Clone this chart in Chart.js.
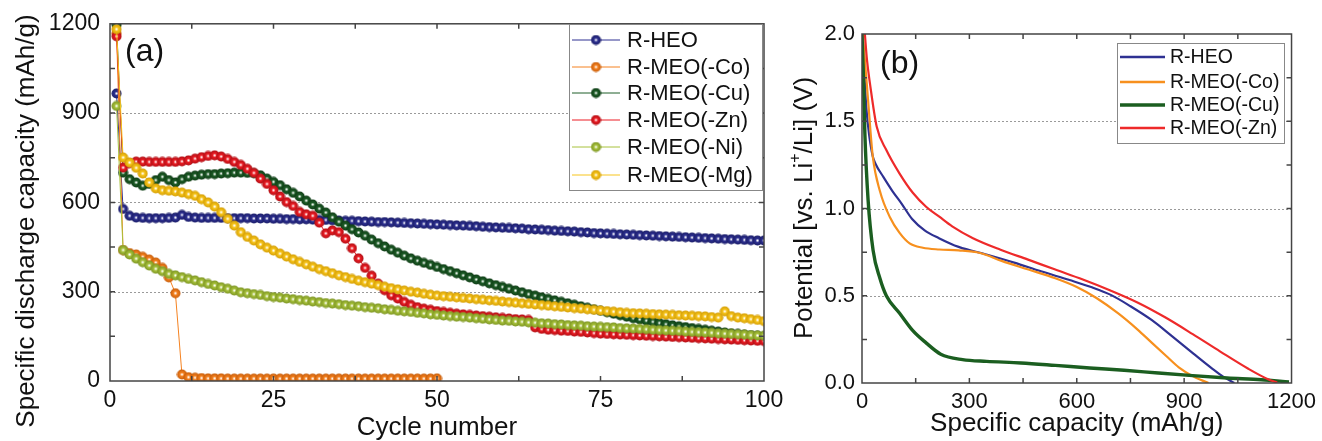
<!DOCTYPE html>
<html>
<head>
<meta charset="utf-8">
<script src="https://cdn.jsdelivr.net/npm/chart.js@4.4.1/dist/chart.umd.min.js"></script>
<style>
  html, body { margin: 0; padding: 0; background: #fff; }
  body { width: 1322px; height: 441px; position: relative; overflow: hidden; }
  canvas { position: absolute; top: 0; }
  #chartA { left: 0; }
  #chartB { left: 780px; }
</style>
</head>
<body>
<canvas id="chartA" width="800" height="441"></canvas>
<canvas id="chartB" width="542" height="441"></canvas>
<script>
const FONT = "'Liberation Sans', Arial, sans-serif";

// ---- (a) cycling data, discharge capacity (mAh/g) per cycle ----
const cycles = Array.from({ length: 100 }, (_, i) => i + 1);

const heo = [
  966, 578, 555, 549, 548, 547, 547, 547, 548, 549,
  558, 551, 549, 548, 548, 548, 548, 547, 547, 547,
  547, 546, 546, 546, 545, 545, 544, 544, 543, 543,
  542, 541, 541, 540, 539, 538, 538, 537, 536, 535,
  534, 534, 533, 532, 531, 530, 529, 528, 527, 526,
  525, 524, 523, 522, 521, 520, 518, 517, 516, 515,
  514, 513, 512, 510, 509, 508, 507, 505, 504, 503,
  502, 500, 499, 497, 496, 495, 494, 493, 492, 491,
  490, 489, 488, 487, 486, 485, 484, 483, 482, 481,
  480, 479, 478, 477, 476, 475, 474, 473, 472, 472
];
const meoCo = [
  1168, 440, 430, 425, 417, 408, 398, 380, 348, 295,
  22, 13, 11, 10, 9, 9, 9, 8, 8, 8,
  8, 8, 8, 8, 8, 8, 8, 8, 8, 8,
  8, 8, 8, 8, 8, 8, 8, 8, 8, 8,
  8, 8, 8, 8, 8, 8, 8, 8, 8, 9
];
const meoCu = [
  1197, 700, 678, 667, 656, 662, 675, 686, 675, 667,
  678, 686, 690, 693, 695, 695, 697, 698, 700, 700,
  699, 698, 691, 680, 669, 658, 644, 632, 620, 606,
  593, 579, 566, 550, 535, 522, 510, 499, 488, 475,
  463, 452, 441, 431, 421, 412, 404, 397, 390, 383,
  376, 369, 362, 355, 348, 341, 335, 328, 322, 316,
  310, 304, 298, 292, 287, 281, 276, 271, 266, 261,
  256, 251, 246, 241, 236, 231, 226, 221, 216, 211,
  207, 203, 199, 195, 191, 187, 184, 181, 178, 175,
  172, 169, 166, 163, 160, 158, 156, 154, 152, 150
];
const meoZn = [
  1158, 717, 732, 737, 737, 736, 736, 736, 736, 736,
  738, 741, 747, 752, 756, 758, 754, 746, 736, 726,
  713, 699, 680, 662, 641, 620, 601, 588, 568, 560,
  555, 532, 496, 506, 500, 478, 446, 412, 380, 354,
  327, 305, 288, 277, 266, 256, 248, 243, 239, 235,
  232, 229, 226, 224, 222, 220, 218, 216, 214, 212,
  210, 208, 207, 205, 180, 175, 172, 171, 169, 168,
  166, 165, 163, 161, 159, 158, 157, 156, 155, 154,
  153, 152, 151, 150, 149, 148, 147, 146, 145, 144,
  143, 142, 141, 140, 139, 138, 137, 136, 135, 134
];
const meoNi = [
  924, 440, 425, 411, 399, 388, 377, 369, 360, 355,
  349, 343, 338, 332, 326, 321, 315, 310, 304, 298,
  295, 292, 289, 285, 282, 280, 277, 275, 272, 270,
  267, 265, 262, 260, 258, 255, 253, 251, 248, 246,
  244, 241, 239, 236, 234, 232, 229, 227, 224, 222,
  220, 218, 216, 215, 213, 211, 209, 207, 205, 203,
  202, 200, 199, 197, 196, 194, 193, 191, 190, 188,
  187, 186, 184, 183, 182, 181, 180, 178, 177, 176,
  175, 174, 172, 171, 170, 169, 168, 166, 165, 164,
  163, 162, 160, 159, 158, 157, 156, 154, 153, 152
];
const meoMg = [
  1182, 751, 734, 716, 697, 667, 647, 641, 639, 637,
  633, 628, 622, 611, 600, 586, 567, 545, 522, 500,
  484, 472, 459, 448, 438, 428, 418, 409, 400, 392,
  384, 376, 369, 362, 355, 349, 343, 337, 332, 327,
  322, 317, 312, 308, 304, 300, 297, 293, 290, 287,
  285, 283, 281, 279, 277, 275, 273, 271, 269, 267,
  265, 263, 261, 259, 257, 255, 253, 251, 249, 247,
  245, 243, 241, 239, 237, 235, 233, 231, 229, 228,
  227, 226, 225, 224, 223, 222, 221, 220, 219, 218,
  217, 215, 213, 234, 218, 213, 211, 208, 205, 201
];

// ---- (b) first discharge profiles: capacity (mAh/g) vs potential (V) ----
const heoCap = [2, 6, 12, 20, 30, 38, 60, 85, 110, 140, 175, 215, 270, 350, 425, 500, 580, 640, 695, 750, 810, 865, 925, 980, 1010, 1040];
const heoV   = [2.0, 1.80, 1.58, 1.42, 1.30, 1.255, 1.18, 1.10, 1.03, 0.94, 0.875, 0.83, 0.78, 0.735, 0.69, 0.64, 0.59, 0.55, 0.505, 0.44, 0.36, 0.27, 0.17, 0.08, 0.035, 0.0];
const coCap  = [2, 8, 17, 30, 50, 78, 105, 133, 170, 216, 270, 330, 390, 465, 540, 600, 655, 715, 770, 810, 850, 885, 925, 950, 968];
const coV    = [2.0, 1.85, 1.62, 1.30, 1.10, 0.95, 0.86, 0.80, 0.775, 0.765, 0.76, 0.745, 0.70, 0.65, 0.60, 0.55, 0.487, 0.40, 0.306, 0.23, 0.155, 0.09, 0.038, 0.015, 0.0];
const cuCap  = [0, 4, 8, 17, 31, 50, 68, 105, 142, 179, 220, 281, 348, 444, 540, 636, 732, 828, 924, 1020, 1116, 1193];
const cuV    = [2.0, 1.75, 1.43, 1.05, 0.76, 0.60, 0.50, 0.40, 0.30, 0.23, 0.165, 0.134, 0.124, 0.115, 0.101, 0.086, 0.073, 0.057, 0.042, 0.029, 0.019, 0.006];
const znCap  = [8, 14, 22, 41, 68, 105, 142, 179, 216, 252, 310, 387, 464, 540, 617, 694, 771, 848, 924, 1001, 1078, 1136, 1160];
const znV    = [2.0, 1.85, 1.72, 1.47, 1.335, 1.20, 1.09, 1.01, 0.953, 0.898, 0.83, 0.764, 0.707, 0.65, 0.593, 0.53, 0.46, 0.375, 0.28, 0.18, 0.083, 0.02, 0.003];

// shaded ball marker like the original plot
function ball(color, dark) {
  const c = document.createElement('canvas');
  c.width = c.height = 11;
  const g = c.getContext('2d');
  const grad = g.createRadialGradient(5.5, 5.5, 0.4, 5.5, 5.5, 5.2);
  grad.addColorStop(0, '#ffffff');
  grad.addColorStop(0.3, color);
  grad.addColorStop(1, dark);
  g.fillStyle = grad;
  g.beginPath();
  g.arc(5.5, 5.5, 5, 0, Math.PI * 2);
  g.fill();
  return c;
}

const seriesA = [
  { name: 'R-HEO',      values: heo,   color: '#2e3192', dark: '#1a1c66' },
  { name: 'R-MEO(-Co)', values: meoCo, color: '#f58220', dark: '#c45a08' },
  { name: 'R-MEO(-Cu)', values: meoCu, color: '#1e5e28', dark: '#0e3a14' },
  { name: 'R-MEO(-Zn)', values: meoZn, color: '#ec1c24', dark: '#ad0f15' },
  { name: 'R-MEO(-Ni)', values: meoNi, color: '#a8c23c', dark: '#7a9222' },
  { name: 'R-MEO(-Mg)', values: meoMg, color: '#f7c51c', dark: '#d29c04' }
];
seriesA.forEach(s => { s.sprite = ball(s.color, s.dark); });

const seriesB = [
  { name: 'R-HEO',      cap: heoCap, v: heoV, color: '#2e3192', width: 2.2 },
  { name: 'R-MEO(-Co)', cap: coCap,  v: coV,  color: '#f7901e', width: 2.2 },
  { name: 'R-MEO(-Cu)', cap: cuCap,  v: cuV,  color: '#1b5e20', width: 3.4 },
  { name: 'R-MEO(-Zn)', cap: znCap,  v: znV,  color: '#ee2a2a', width: 2.2 }
];

function drawTitle(ctx, parts, cx, cy, size) {
  ctx.save();
  ctx.translate(cx, cy);
  ctx.rotate(-Math.PI / 2);
  ctx.fillStyle = '#111';
  ctx.textBaseline = 'middle';
  const fonts = parts.map(p => (p.sup ? Math.round(size * 0.6) : size) + 'px ' + FONT);
  const widths = parts.map((p, i) => { ctx.font = fonts[i]; return ctx.measureText(p.t).width; });
  let x = -widths.reduce((a, b) => a + b, 0) / 2;
  parts.forEach((p, i) => {
    ctx.font = fonts[i];
    ctx.fillText(p.t, x, p.sup ? -size * 0.36 : 0);
    x += widths[i];
  });
  ctx.restore();
}

// box frame, dotted grid, inward ticks, panel letter, y title and legend
function framePlugin(cfg) {
  return {
    id: 'frame',
    beforeDatasetsDraw(chart) {
      const { ctx, chartArea: a, scales: { y } } = chart;
      ctx.save();
      ctx.strokeStyle = '#9a9a9a';
      ctx.lineWidth = 1;
      ctx.setLineDash([2, 2]);
      cfg.gridY.forEach(v => {
        const py = Math.round(y.getPixelForValue(v)) + 0.5;
        ctx.beginPath();
        ctx.moveTo(a.left, py);
        ctx.lineTo(a.right, py);
        ctx.stroke();
      });
      ctx.restore();
    },
    afterDatasetsDraw(chart) {
      const { ctx, chartArea: a, scales: { x, y } } = chart;
      ctx.save();
      ctx.strokeStyle = '#444';
      ctx.lineWidth = 1.5;
      ctx.strokeRect(a.left, a.top, a.right - a.left, a.bottom - a.top);
      ctx.beginPath();
      x.ticks.forEach(t => {
        if (t.value <= x.min || t.value >= x.max) return;
        const px = x.getPixelForValue(t.value);
        ctx.moveTo(px, a.bottom); ctx.lineTo(px, a.bottom - 5);
        ctx.moveTo(px, a.top); ctx.lineTo(px, a.top + 5);
      });
      y.ticks.forEach(t => {
        if (t.value <= y.min || t.value >= y.max) return;
        const py = y.getPixelForValue(t.value);
        ctx.moveTo(a.left, py); ctx.lineTo(a.left + 5, py);
        ctx.moveTo(a.right, py); ctx.lineTo(a.right - 5, py);
      });
      ctx.stroke();

      ctx.fillStyle = '#111';
      ctx.font = '32px ' + FONT;
      ctx.textBaseline = 'alphabetic';
      ctx.fillText(cfg.label, cfg.labelX, cfg.labelY);

      drawTitle(ctx, cfg.yTitle, cfg.yTitleX, cfg.yTitleY, 26);

      const L = cfg.legend;
      ctx.fillStyle = '#fff';
      ctx.fillRect(L.x, L.y, L.w, L.h);
      ctx.strokeStyle = '#888';
      ctx.lineWidth = 1;
      ctx.strokeRect(L.x + 0.5, L.y + 0.5, L.w, L.h);
      ctx.font = L.size + 'px ' + FONT;
      ctx.textBaseline = 'middle';
      L.items.forEach((it, i) => {
        const ry = L.rows[i];
        ctx.strokeStyle = it.color;
        ctx.lineWidth = it.width;
        ctx.beginPath();
        ctx.moveTo(L.x0, ry); ctx.lineTo(L.x1, ry);
        ctx.stroke();
        if (it.sprite) {
          ctx.drawImage(it.sprite, (L.x0 + L.x1) / 2 - 5.5, ry - 5.5);
        }
        ctx.fillStyle = '#111';
        ctx.fillText(it.name, L.tx, ry + 1);
      });
      ctx.restore();
    }
  };
}

const tickFont = size => ({ family: FONT, size: size });

new Chart(document.getElementById('chartA'), {
  type: 'line',
  data: {
    datasets: seriesA.map((s, i) => ({
      label: s.name,
      data: s.values.map((v, j) => ({ x: cycles[j], y: v })),
      borderColor: s.color,
      backgroundColor: s.color,
      borderWidth: 1,
      pointStyle: s.sprite,
      pointRadius: 5,
      tension: 0,
      order: -i
    }))
  },
  options: {
    responsive: false,
    animation: false,
    events: [],
    layout: { padding: { top: 23, right: 36, left: 0, bottom: 0 } },
    scales: {
      x: {
        type: 'linear', min: 0, max: 100,
        grid: { display: false, drawTicks: false },
        border: { display: false },
        ticks: {
          stepSize: 12.5, autoSkip: false, maxRotation: 0, padding: 6,
          color: '#111', font: tickFont(23),
          callback: v => (v % 25 === 0 ? v : '')
        },
        title: {
          display: true, text: 'Cycle number', color: '#111',
          font: { family: FONT, size: 26, lineHeight: 1 }, padding: { top: 0, bottom: 0 }
        },
        afterFit: s => { s.height = 60; }
      },
      y: {
        min: 0, max: 1200,
        grid: { display: false, drawTicks: false },
        border: { display: false },
        ticks: {
          stepSize: 150, autoSkip: false, padding: 10,
          color: '#111', font: tickFont(23),
          callback: v => (v % 300 === 0 ? v : '')
        },
        afterFit: s => { s.width = 110; }
      }
    },
    plugins: { legend: { display: false }, tooltip: { enabled: false } }
  },
  plugins: [framePlugin({
    gridY: [300, 600, 900],
    label: '(a)', labelX: 125, labelY: 61,
    yTitle: [{ t: 'Specific discharge capacity (mAh/g)' }], yTitleX: 27, yTitleY: 221,
    legend: {
      x: 569, y: 24, w: 193, h: 166, size: 22,
      rows: [40, 67, 93, 120, 147, 175], x0: 572, x1: 620, tx: 627,
      items: seriesA.map(s => ({ name: s.name, color: s.color, width: 1, sprite: s.sprite }))
    }
  })]
});

new Chart(document.getElementById('chartB'), {
  type: 'line',
  data: {
    datasets: seriesB.map((s, i) => ({
      label: s.name,
      data: s.cap.map((c, j) => ({ x: c, y: s.v[j] })),
      borderColor: s.color,
      borderWidth: s.width,
      pointRadius: 0,
      cubicInterpolationMode: 'monotone',
      order: -i
    }))
  },
  options: {
    responsive: false,
    animation: false,
    events: [],
    layout: { padding: { top: 34, right: 27, left: 0, bottom: 0 } },
    scales: {
      x: {
        type: 'linear', min: 0, max: 1200,
        grid: { display: false, drawTicks: false },
        border: { display: false },
        ticks: {
          stepSize: 150, autoSkip: false, maxRotation: 0, padding: 6,
          color: '#111', font: tickFont(22),
          callback: v => (v % 300 === 0 ? v : '')
        },
        title: {
          display: true, text: 'Specific capacity (mAh/g)', color: '#111',
          font: { family: FONT, size: 26, lineHeight: 1 }, padding: { top: 0, bottom: 4 }
        },
        afterFit: s => { s.height = 58; }
      },
      y: {
        min: 0, max: 2,
        grid: { display: false, drawTicks: false },
        border: { display: false },
        ticks: {
          stepSize: 0.25, autoSkip: false, padding: 7,
          color: '#111', font: tickFont(22),
          callback: v => (Math.abs(v * 2 - Math.round(v * 2)) < 1e-6 ? v.toFixed(1) : '')
        },
        afterFit: s => { s.width = 82; }
      }
    },
    plugins: { legend: { display: false }, tooltip: { enabled: false } }
  },
  plugins: [framePlugin({
    gridY: [0.5, 1.0, 1.5],
    label: '(b)', labelX: 100, labelY: 73,
    yTitle: [{ t: 'Potential [vs. Li' }, { t: '+', sup: true }, { t: '/Li] (V)' }], yTitleX: 25, yTitleY: 208,
    legend: {
      x: 337, y: 43, w: 167, h: 100, size: 19.5,
      rows: [57, 82, 105, 128], x0: 340, x1: 385, tx: 390,
      items: seriesB.map(s => ({ name: s.name, color: s.color, width: s.width === 3.4 ? 3.6 : 2.6 }))
    }
  })]
});
</script>
</body>
</html>
